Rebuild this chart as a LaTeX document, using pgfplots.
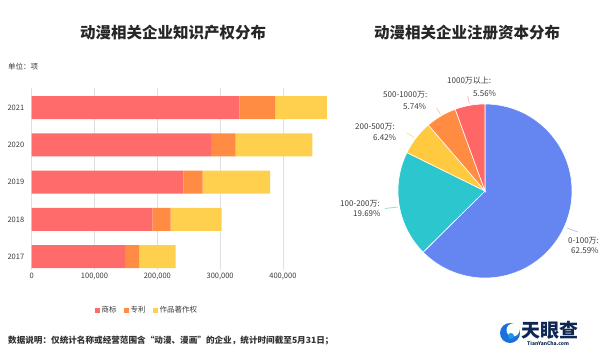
\documentclass[border=0pt]{standalone}
\usepackage{fontspec}
\setmainfont{Noto Sans CJK SC}
\usepackage{pgfplots}
\pgfplotsset{compat=1.18}
\usepackage{pgfplotstable}
\definecolor{tm}{RGB}{255,107,107}
\definecolor{pa}{RGB}{255,140,66}
\definecolor{cp}{RGB}{255,208,77}
\definecolor{pblue}{RGB}{101,134,240}
\definecolor{pcyan}{RGB}{44,199,206}
\definecolor{pyellow}{RGB}{255,202,64}
\definecolor{porange}{RGB}{255,140,64}
\definecolor{pred}{RGB}{255,102,102}
\definecolor{logoblue}{RGB}{28,112,222}
\definecolor{navy}{RGB}{14,38,84}
\definecolor{txt}{RGB}{60,60,60}
\pgfplotstableread{
y tm pa cp
1 148600 22300 58400
2 192100 29200 81200
3 241400 30900 107200
4 285500 39300 122000
5 330600 56800 82800
}\ipdata
\begin{document}
\begin{tikzpicture}
\useasboundingbox (0pt,0pt) rectangle (605pt,-356pt);
\fill[white] (0pt,0pt) rectangle (605pt,-356pt);
% titles
\node[font=\fontsize{15.5}{17}\selectfont\bfseries, text=black!85] at (173pt,-33pt) {动漫相关企业知识产权分布};
\node[font=\fontsize{15.5}{17}\selectfont\bfseries, text=black!85] at (467pt,-33pt) {动漫相关企业注册资本分布};
\node[font=\fontsize{7.5}{9}\selectfont, text=txt, anchor=west, inner sep=0pt] at (8pt,-67pt) {单位：项};
\begin{axis}[
  at={(31.7pt,-88pt)}, anchor=north west,
  scale only axis, width=295.2pt, height=182pt,
  xmin=0, xmax=470000, ymin=0.643, ymax=5.53,
  xbar stacked, bar width=23pt,
  ytick={1,2,3,4,5}, yticklabels={2017,2018,2019,2020,2021},
  xtick={0,100000,200000,300000,400000},
  xticklabels={0,{100,000},{200,000},{300,000},{400,000}},
  scaled x ticks=false,
  xmajorgrids, grid style={draw=black!12, line width=0.5pt},
  axis line style={draw=none},
  major tick length=0pt,
  tick label style={font=\fontsize{7.5}{9}\selectfont, text=txt},
  yticklabel style={xshift=-4pt},
  legend style={at={(0.39,-0.22)}, anchor=center, draw=none, fill=none,
    legend columns=3, font=\fontsize{7.5}{9}\selectfont, text=txt,
    /tikz/every even column/.append style={column sep=5pt}},
  legend image code/.code={\fill[#1] (0pt,-2.5pt) rectangle (5pt,2.5pt);},
]
\addplot[fill=tm, draw=none] table[x=tm, y=y]{\ipdata};
\addplot[fill=pa, draw=none] table[x=pa, y=y]{\ipdata};
\addplot[fill=cp, draw=none] table[x=cp, y=y]{\ipdata};
\legend{商标,专利,作品著作权}
\end{axis}
% pie
\begin{axis}[
  at={(485pt,-191pt)}, anchor=center,
  scale only axis, width=174pt, height=174pt,
  xmin=-1, xmax=1, ymin=-1, ymax=1, hide axis, clip=false]
\filldraw[fill=pblue, draw=white, line width=0.6pt] (axis cs:0,0) -- ++(90:87pt) arc[start angle=90, delta angle={-3.6*62.59}, radius=87pt] -- cycle;
\filldraw[fill=pcyan, draw=white, line width=0.6pt] (axis cs:0,0) -- ++({90-3.6*62.59}:87pt) arc[start angle={90-3.6*62.59}, delta angle={-3.6*19.69}, radius=87pt] -- cycle;
\filldraw[fill=pyellow, draw=white, line width=0.6pt] (axis cs:0,0) -- ++({90-3.6*82.28}:87pt) arc[start angle={90-3.6*82.28}, delta angle={-3.6*6.42}, radius=87pt] -- cycle;
\filldraw[fill=porange, draw=white, line width=0.6pt] (axis cs:0,0) -- ++({90-3.6*88.70}:87pt) arc[start angle={90-3.6*88.70}, delta angle={-3.6*5.74}, radius=87pt] -- cycle;
\filldraw[fill=pred, draw=white, line width=0.6pt] (axis cs:0,0) -- ++({90-3.6*94.44}:87pt) arc[start angle={90-3.6*94.44}, delta angle={-3.6*5.56}, radius=87pt] -- cycle;
\end{axis}
% leader lines
\draw[pred!50, line width=0.7pt] (469.3pt,-103.5pt) -- (467.7pt,-96pt);
\draw[porange!50, line width=0.7pt] (440.5pt,-114.5pt) -- (436.7pt,-108pt);
\draw[pyellow!60, line width=0.7pt] (414pt,-137.5pt) -- (407pt,-133pt);
\draw[pcyan!60, line width=0.7pt] (398pt,-207pt) -- (385pt,-208.5pt);
\draw[pblue!50, line width=0.7pt] (567pt,-228pt) -- (578pt,-232pt);
% pie labels
\begin{scope}[every node/.style={font=\fontsize{8}{9}\selectfont, text=txt, anchor=west, inner sep=0pt}]
\node at (447pt,-81pt) {1000万以上:};
\node at (473pt,-94pt) {5.56\%};
\node at (383pt,-94.3pt) {500-1000万:};
\node at (403pt,-107pt) {5.74\%};
\node at (355pt,-127pt) {200-500万:};
\node at (373pt,-137.7pt) {6.42\%};
\node at (340pt,-204pt) {100-200万:};
\node at (353pt,-214pt) {19.69\%};
\node at (568pt,-241pt) {0-100万:};
\node at (571pt,-250.7pt) {62.59\%};
\end{scope}
% footnote
\node[font=\fontsize{8.6}{9}\selectfont\bfseries, text=black!80, anchor=west, inner sep=0pt] at (8pt,-340.7pt) {数据说明：仅统计名称或经营范围含“动漫、漫画”的企业，统计时间截至5月31日；};
% logo
\fill[logoblue] (510pt,-333pt) circle (10pt);
\fill[white] (513pt,-330pt) circle (6.5pt);
\fill[logoblue!70!cyan] (511pt,-336pt) circle (3pt);
\node[font=\fontsize{19}{20}\selectfont\bfseries, text=navy, anchor=west, inner sep=0pt] at (521pt,-330.5pt) {天眼查};
\node[font=\fontsize{5}{6}\selectfont\bfseries, text=navy, anchor=west, inner sep=0pt] at (527pt,-343pt) {TianYanCha.com};
\end{tikzpicture}
\end{document}
